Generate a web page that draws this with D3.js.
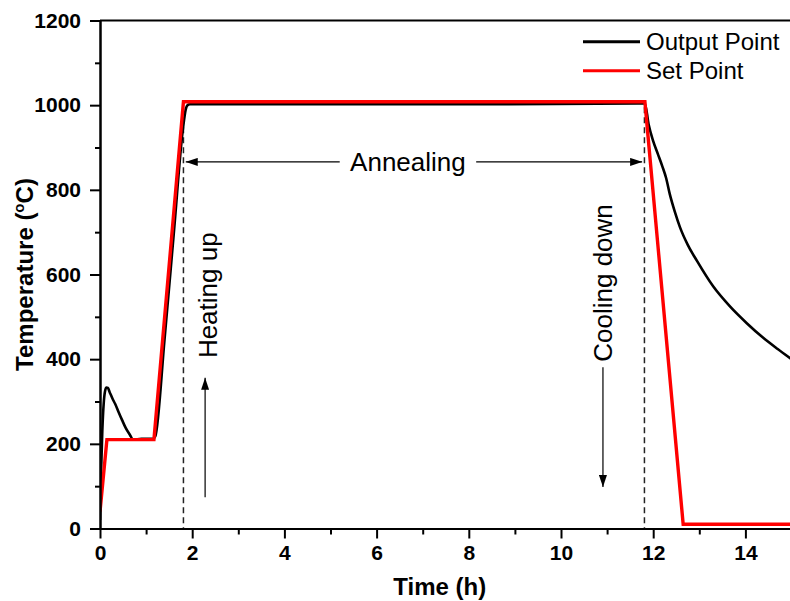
<!DOCTYPE html>
<html>
<head>
<meta charset="utf-8">
<script src="https://cdn.jsdelivr.net/npm/d3@7"></script>
<style>
  body { margin: 0; background: #fff; }
  svg { display: block; font-family: Arial, "Liberation Sans", sans-serif; }
</style>
</head>
<body>
<svg id="chart" width="790" height="601"></svg>
<script>
// set point program (red)
var setTime = [0, 0.15, 1.17, 1.81, 11.82, 12.65, 15];
var setTemp = [40, 210, 210, 1008, 1008, 10, 10];

// measured output (black)
var outTime = [0, 0.02, 0.05, 0.08, 0.11, 0.14, 0.17, 0.21, 0.27, 0.33, 0.4, 0.48, 0.56, 0.65, 0.72, 0.9, 1.15,
  1.2, 1.4, 1.6, 1.8, 1.86, 1.9, 1.95, 4, 8, 11.82,
  11.9, 12.0, 12.1, 12.2, 12.28, 12.36, 12.47, 12.58, 12.75, 12.95, 13.3, 13.67, 14.03, 14.38, 14.7, 15];
var outTemp = [20, 120, 230, 295, 325, 333, 332, 322, 307, 294, 276, 256, 237, 221, 210, 212, 212,
  218, 447, 696, 945, 990, 1000, 1002, 1002, 1002, 1004,
  955, 915, 885, 855, 828, 790, 748, 712, 670, 632, 572, 524, 485, 451, 424, 400];

var xMajor = [0, 2, 4, 6, 8, 10, 12, 14];
var xMinor = [1, 3, 5, 7, 9, 11, 13];
var yMajor = [0, 200, 400, 600, 800, 1000, 1200];
var yMinor = [100, 300, 500, 700, 900, 1100];

var legendNames = ['Output Point', 'Set Point'];
var legendColors = ['#000', '#ff0000'];

var svg = d3.select('#chart');

var x = d3.scaleLinear().domain([0, 15]).range([100, 791.5]);
var y = d3.scaleLinear().domain([0, 1200]).range([528.5, 20.5]);

svg.append('clipPath').attr('id', 'plotclip')
  .append('rect').attr('x', x(0)).attr('y', y(1200))
  .attr('width', x(15) - x(0)).attr('height', y(0) - y(1200));

// dashed phase separators
svg.selectAll('.sep')
  .data([1.81, 11.81])
  .enter()
  .append('line')
  .attr('class', 'sep')
  .attr('x1', function(d) { return x(d); })
  .attr('x2', function(d) { return x(d); })
  .attr('y1', y(995))
  .attr('y2', y(0))
  .attr('stroke', '#222')
  .attr('stroke-width', 1.5)
  .attr('stroke-dasharray', '6,4');

var line = d3.line()
  .x(function(d) { return x(d[0]); })
  .y(function(d) { return y(d[1]); });

var plot = svg.append('g').attr('clip-path', 'url(#plotclip)');

plot.append('path')
  .datum(d3.zip(outTime, outTemp))
  .attr('d', line.curve(d3.curveMonotoneX))
  .attr('fill', 'none')
  .attr('stroke', '#000')
  .attr('stroke-width', 2.6)
  .attr('stroke-linejoin', 'round');

plot.append('path')
  .datum(d3.zip(setTime, setTemp))
  .attr('d', line.curve(d3.curveLinear))
  .attr('fill', 'none')
  .attr('stroke', '#ff0000')
  .attr('stroke-width', 3.4)
  .attr('stroke-linejoin', 'miter');

// axes
function styleAxis(g) {
  g.selectAll('.domain').attr('stroke', '#000').attr('stroke-width', 2);
  g.selectAll('.tick line').attr('stroke', '#000').attr('stroke-width', 2);
  g.selectAll('.tick text').attr('fill', '#000').style('font-size', '21px').style('font-weight', 'bold');
}

svg.append('g')
  .attr('transform', 'translate(0,' + y(0) + ')')
  .call(d3.axisBottom(x).tickValues(xMinor).tickSize(6).tickSizeOuter(0).tickFormat(''))
  .call(styleAxis);
svg.append('g')
  .attr('transform', 'translate(0,' + y(0) + ')')
  .call(d3.axisBottom(x).tickValues(xMajor).tickSize(10).tickSizeOuter(0).tickPadding(7).tickFormat(d3.format('d')))
  .call(styleAxis);

svg.append('g')
  .attr('transform', 'translate(' + x(0) + ',0)')
  .call(d3.axisLeft(y).tickValues(yMinor).tickSize(5).tickSizeOuter(0).tickFormat(''))
  .call(styleAxis);
svg.append('g')
  .attr('transform', 'translate(' + x(0) + ',0)')
  .call(d3.axisLeft(y).tickValues(yMajor).tickSize(10).tickSizeOuter(0).tickPadding(9).tickFormat(d3.format('d')))
  .call(styleAxis);

// top frame
svg.append('line')
  .attr('x1', x(0)).attr('x2', x(15))
  .attr('y1', y(1200)).attr('y2', y(1200))
  .attr('stroke', '#000').attr('stroke-width', 2);

// axis titles
svg.append('text')
  .attr('x', (x(0) + x(15)) / 2 - 6)
  .attr('y', 595)
  .attr('text-anchor', 'middle')
  .style('font-size', '24px').style('font-weight', 'bold')
  .text('Time (h)');

var yt = svg.append('text')
  .attr('transform', 'translate(33,' + (y(0) + y(1200)) / 2 + ') rotate(-90)')
  .attr('text-anchor', 'middle')
  .style('font-size', '24px').style('font-weight', 'bold');
yt.append('tspan').text('Temperature (');
yt.append('tspan').attr('dy', -9).style('font-size', '15px').text('o');
yt.append('tspan').attr('dy', 9).text('C)');

// arrow markers
var defs = svg.append('defs');
defs.append('marker')
  .attr('id', 'head')
  .attr('viewBox', '0 0 12 8')
  .attr('refX', 12).attr('refY', 4)
  .attr('markerWidth', 12).attr('markerHeight', 8)
  .attr('markerUnits', 'userSpaceOnUse')
  .attr('orient', 'auto')
  .append('path').attr('d', 'M0,0 L12,4 L0,8 Z').attr('fill', '#000');

// [fromTime, fromTemp, toTime, toTemp]
var annealY = 866;
var arrows = [
  [5.2, annealY, 1.86, annealY],
  [8.16, annealY, 11.76, annealY],
  [2.28, 74, 2.28, 356],
  [10.91, 381, 10.91, 98]
];

svg.selectAll('.arrow')
  .data(arrows)
  .enter()
  .append('line')
  .attr('class', 'arrow')
  .attr('x1', function(d) { return x(d[0]); })
  .attr('y1', function(d) { return y(d[1]); })
  .attr('x2', function(d) { return x(d[2]); })
  .attr('y2', function(d) { return y(d[3]); })
  .attr('stroke', '#000')
  .attr('stroke-width', 1.2)
  .attr('marker-end', 'url(#head)');

svg.append('text')
  .attr('x', x(6.68)).attr('y', y(annealY) + 9)
  .attr('text-anchor', 'middle')
  .style('font-size', '26px')
  .text('Annealing');

svg.append('text')
  .attr('transform', 'translate(' + x(2.54) + ',' + y(551) + ') rotate(-90)')
  .attr('text-anchor', 'middle')
  .style('font-size', '26px')
  .text('Heating up');

svg.append('text')
  .attr('transform', 'translate(' + x(11.11) + ',' + y(580) + ') rotate(-90)')
  .attr('text-anchor', 'middle')
  .style('font-size', '26px')
  .text('Cooling down');

// legend
var legend = svg.selectAll('.legend')
  .data(legendNames)
  .enter()
  .append('g')
  .attr('class', 'legend')
  .attr('transform', function(d, i) { return 'translate(583,' + (41.7 + i * 29) + ')'; });

legend.append('line')
  .attr('x1', 0).attr('x2', 57)
  .attr('stroke', function(d, i) { return legendColors[i]; })
  .attr('stroke-width', 3);

legend.append('text')
  .attr('x', 63).attr('y', 8)
  .style('font-size', '24px')
  .text(function(d) { return d; });
</script>
</body>
</html>
